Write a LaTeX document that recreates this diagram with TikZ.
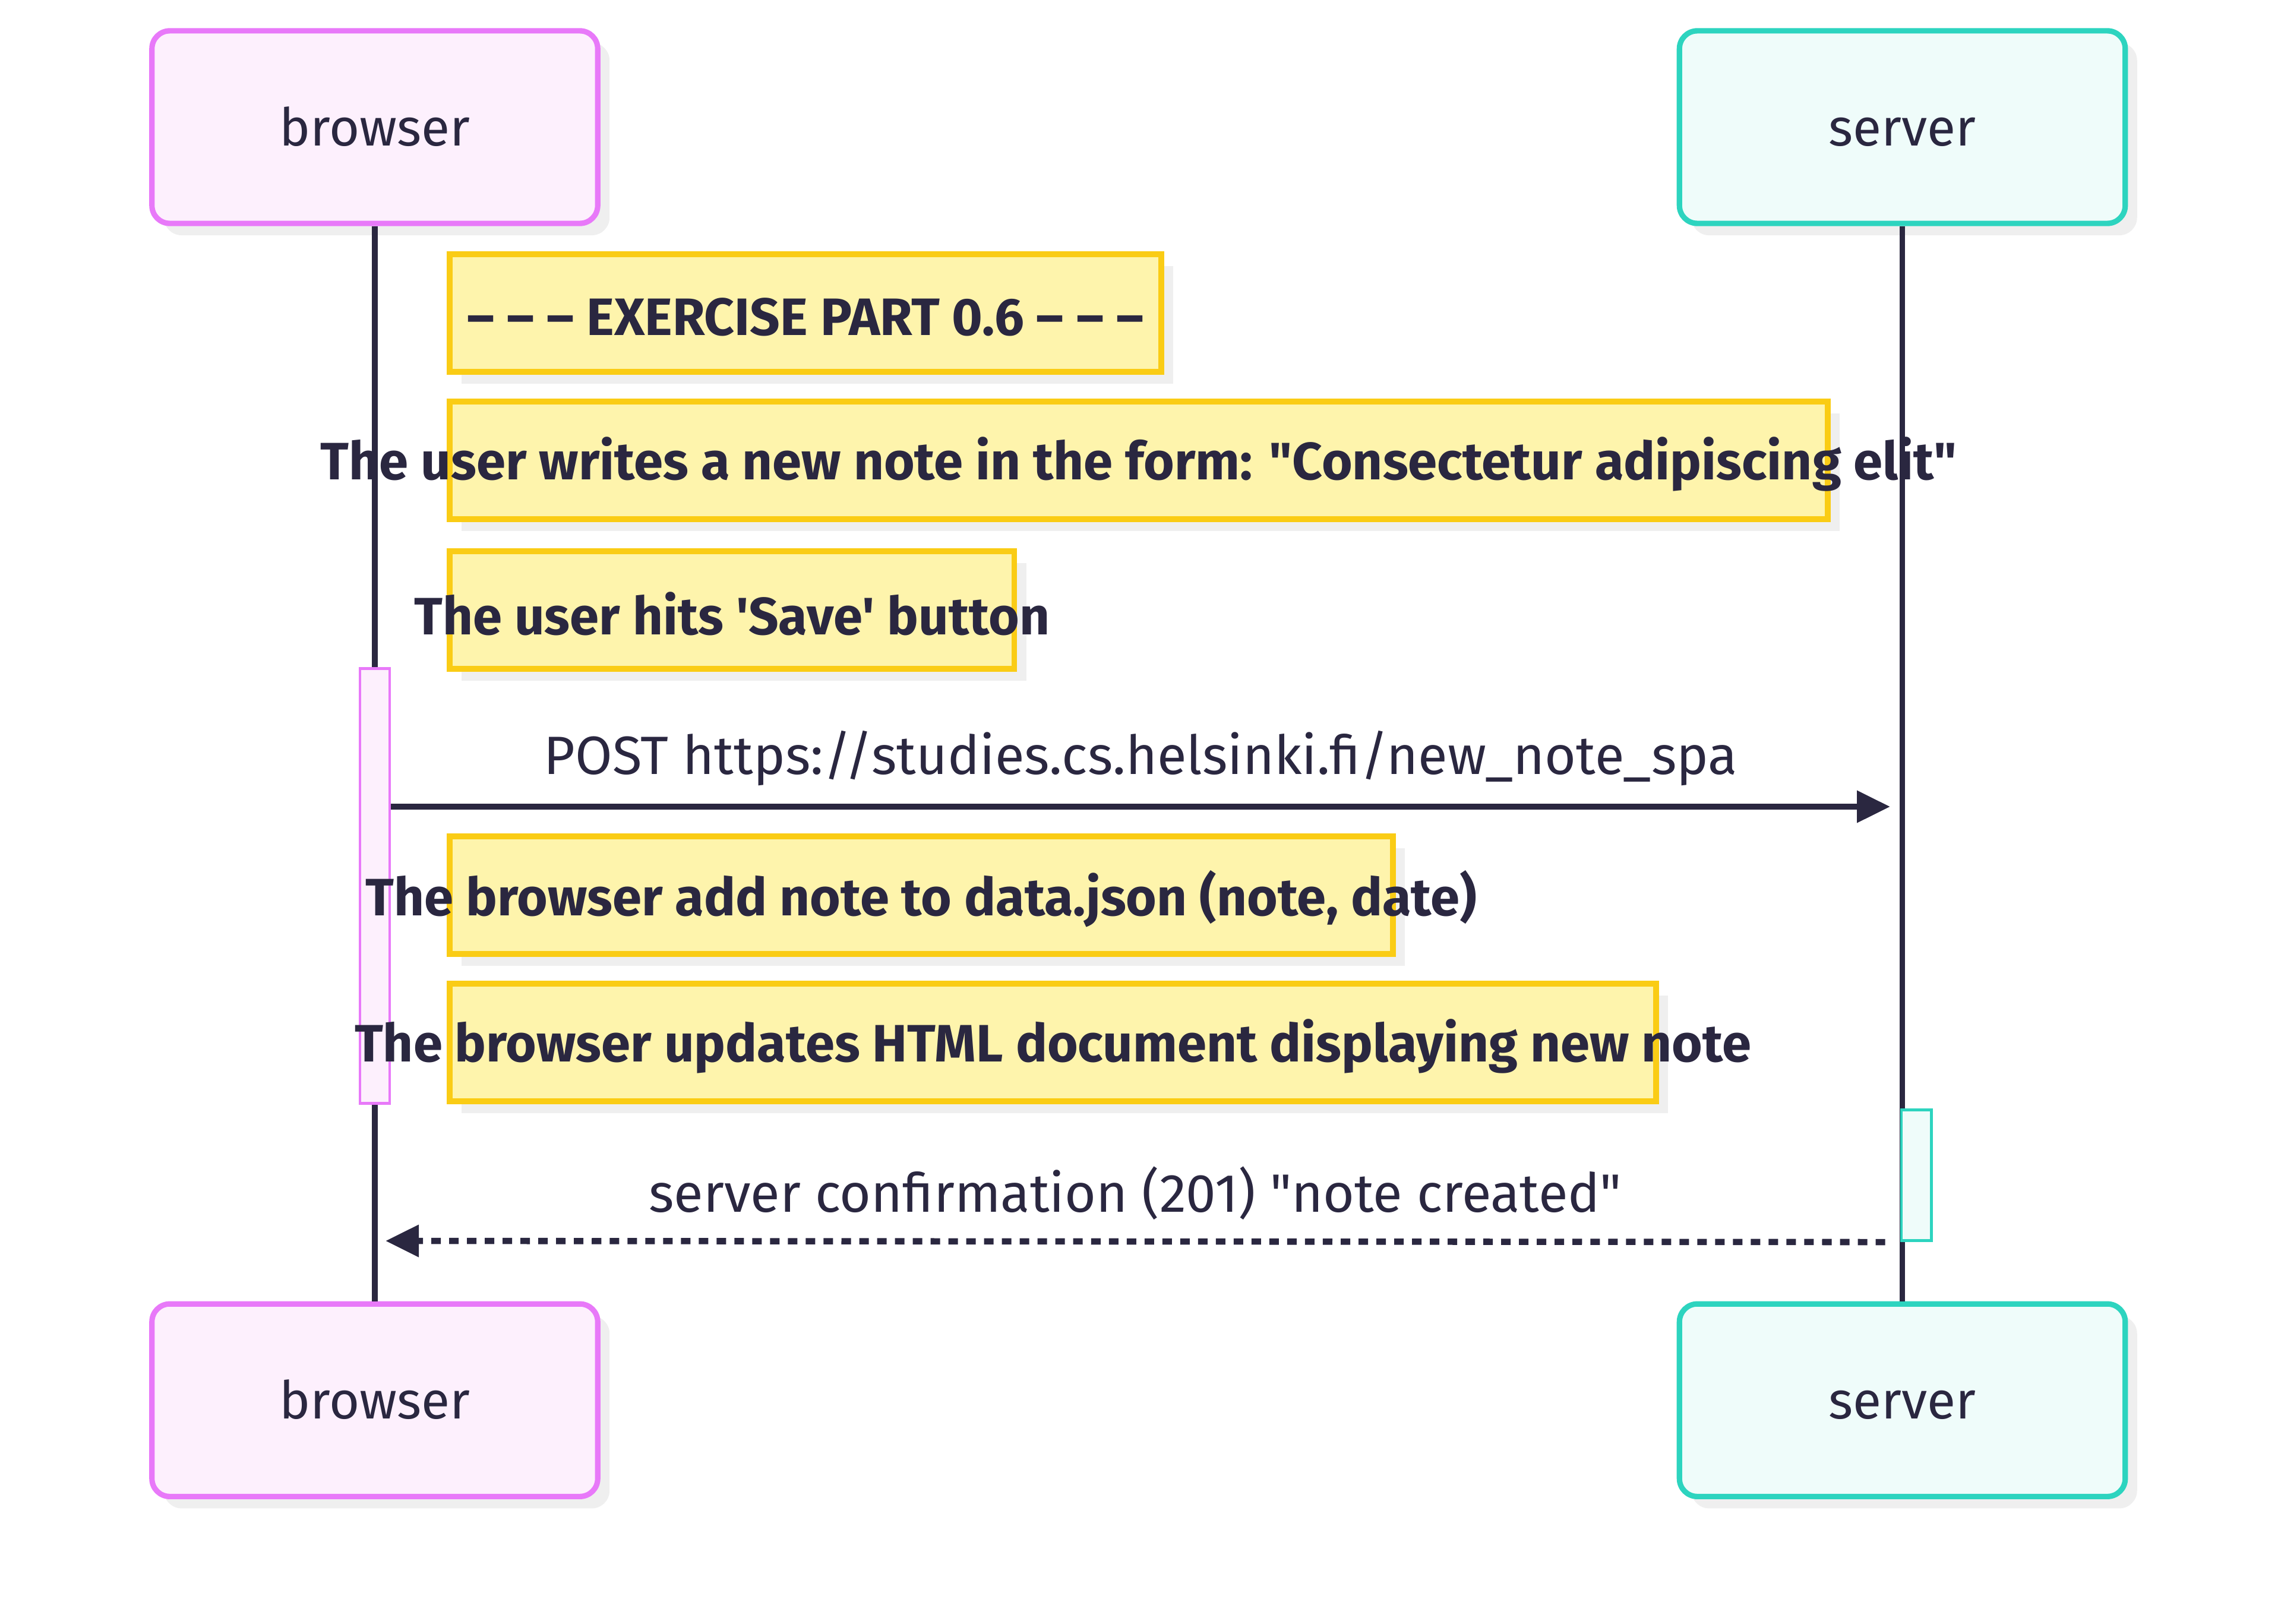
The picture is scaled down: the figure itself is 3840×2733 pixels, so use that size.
\documentclass[tikz,border=0pt]{standalone}
\usepackage{fontspec}
\setmainfont{Fira Sans}
\usetikzlibrary{positioning,shadows,arrows.meta}

\definecolor{ink}{HTML}{2A2740}
\definecolor{browserline}{HTML}{E879F9}
\definecolor{browserfill}{HTML}{FDF0FD}
\definecolor{serverline}{HTML}{2DD4BF}
\definecolor{serverfill}{HTML}{EFFCFA}
\definecolor{noteline}{HTML}{FACC15}
\definecolor{notefill}{HTML}{FEF4AC}
\definecolor{shade}{HTML}{EFEFEF}

\tikzset{
  boxshadow/.style={drop shadow={shadow xshift=0.2cm, shadow yshift=-0.2cm, fill=shade, opacity=1}},
  actor/.style={draw, line width=2.6pt, rounded corners=0.3cm, minimum width=7.5cm, minimum height=3.24cm,
    text=ink, font=\fontsize{25}{30}\selectfont, text height=18pt, text depth=0pt, boxshadow},
  browseractor/.style={actor, draw=browserline, fill=browserfill},
  serveractor/.style={actor, draw=serverline, fill=serverfill},
  lifeline/.style={draw=ink, line width=2.8pt},
  activation/.style={draw, line width=1.4pt, minimum width=0.5cm, inner sep=0pt},
  note/.style={draw=noteline, fill=notefill, line width=2.8pt, minimum height=1.98cm, inner sep=0pt,
    anchor=north west, boxshadow},
  notetext/.style={text=ink, font=\fontsize{25.2}{30}\selectfont\bfseries, yshift=-1.8pt},
  msg/.style={draw=ink, line width=3pt, -{Triangle[length=0.56cm, width=0.52cm]}},
  reply/.style={msg, dash pattern=on 0.16cm off 0.14cm},
  msgtext/.style={text=ink, font=\fontsize{25.8}{30}\selectfont},
}

\begin{document}
\begin{tikzpicture}[x=0.01cm, y=-0.01cm, node distance=2cm, on grid]
    \useasboundingbox (0,0) rectangle (3840,2733);

    % actors
    \node[browseractor] (browserTop) at (631,214) {browser};
    \node[serveractor] (serverTop) [right=25.7cm of browserTop] {server};
    \node[browseractor] (browserBottom) [below=21.42cm of browserTop] {browser};
    \node[serveractor] (serverBottom) [below=21.42cm of serverTop] {server};

    \draw[lifeline] (browserTop.south) -- (browserBottom.north);
    \draw[lifeline] (serverTop.south) -- (serverBottom.north);

    % activations
    \node[activation, draw=browserline, fill=browserfill, minimum height=7.32cm] (browserAct) at (631,1491.5) {};
    \node[activation, draw=serverline, fill=serverfill, minimum height=2.2cm] (serverAct) at (3226,1978.5) {};

    % notes
    \node[note, minimum width=11.97cm] (note1) at (752,423) {};
    \node[note, minimum width=23.19cm] (note2) at (752,671) {};
    \node[note, minimum width=9.5cm] (note3) at (752,923) {};
    \node[note, minimum width=15.87cm] (note4) at (752,1403) {};
    \node[note, minimum width=20.3cm] (note5) at (752,1651) {};

    \node[notetext] at (note1) {– – – EXERCISE PART 0.6 – – –};
    \node[notetext] at (note2) {The user writes a new note in the form: \textquotedbl Consectetur adipiscing elit\textquotedbl};
    \node[notetext] at (note3) {The user hits {\textquotesingle}Save{\textquotesingle} button};
    \node[notetext] at (note4) {The browser add note to data.json (note, date)};
    \node[notetext] at (note5) {The browser updates HTML document displaying new note};

    % messages
    \coordinate (postTip) at (3182,1358);
    \coordinate (replyTip) at (649,2089);
    \draw[msg] (browserAct.east |- postTip) -- (postTip)
        node[msgtext, midway, yshift=0.81cm] {POST https://studies.cs.helsinki.fi/new\_note\_spa};
    \draw[reply] ([xshift=-0.25cm]serverAct.south west) -- (replyTip)
        node[msgtext, midway, yshift=0.81cm] {server confirmation (201) \textquotedbl note created\textquotedbl};
\end{tikzpicture}
\end{document}
